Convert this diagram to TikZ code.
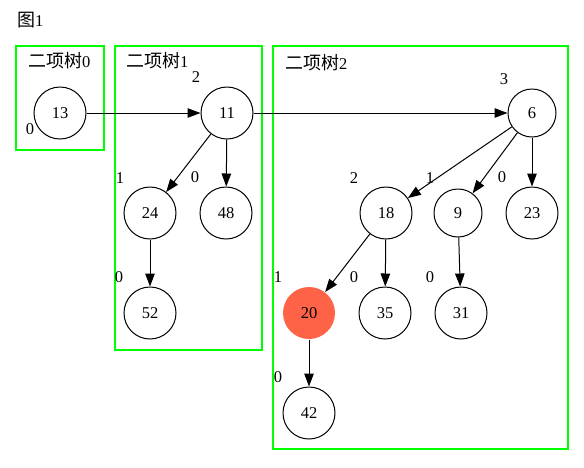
\documentclass[tikz,border=0pt]{standalone}
\usepackage{fontspec}
\setmainfont{Liberation Serif}
\newfontfamily\cjk{Noto Sans CJK SC}
\usetikzlibrary{arrows.meta}
\definecolor{tomato}{HTML}{FF6347}
\definecolor{gr}{HTML}{00FF00}
\begin{document}
\begin{tikzpicture}[x=1pt,y=-1pt,font=\fontsize{16.5}{18}\selectfont,
  nd/.style={circle,draw,line width=1pt,minimum size=52pt,inner sep=0pt},
  sm/.style={nd,minimum size=48pt},
  hot/.style={nd,draw=none,fill=tomato},
  edge/.style={draw,line width=1pt,-{Triangle[length=13pt,width=9.5pt]}},
  clu/.style={draw=gr,line width=1.2pt},
  lbl/.style={inner sep=0pt},
  ttl/.style={inner sep=0pt,anchor=west},
  cj/.style={}]
\useasboundingbox (0,0) rectangle (584,467);
% clusters
\draw[clu] (16,46) rectangle (104,150);
\draw[clu] (115,46) rectangle (262,350);
\draw[clu] (273,46) rectangle (568,449);
\node[ttl] (title) at (17,20) {{\cjk\fontsize{18}{20}\selectfont 图}1};
\node[ttl] (c0) at (28,61) {{\cjk\fontsize{18}{20}\selectfont 二项树}0};
\node[ttl] (c1) at (126,61) {{\cjk\fontsize{18}{20}\selectfont 二项树}1};
\node[ttl] (c2) at (285,63) {{\cjk\fontsize{18}{20}\selectfont 二项树}2};
% nodes
\node[nd] (n13) at (60,113) {13};
\node[nd] (n11) at (227,113) {11};
\node[sm] (n6) at (532,113) {6};
\node[nd] (n24) at (150,213) {24};
\node[nd] (n48) at (226,213) {48};
\node[nd] (n52) at (150,313) {52};
\node[nd] (n18) at (386,213) {18};
\node[sm] (n9) at (458,213) {9};
\node[nd] (n23) at (532,213) {23};
\node[hot] (n20) at (309,313) {20};
\node[nd] (n35) at (385,313) {35};
\node[nd] (n31) at (461,313) {31};
\node[nd] (n42) at (309,413) {42};
% degree labels
\node[lbl] (d13) at (30,129) {0};
\node[lbl] (d11) at (196,77) {2};
\node[lbl] (d6) at (504,79) {3};
\node[lbl] (d24) at (120,178) {1};
\node[lbl] (d48) at (195,177) {0};
\node[lbl] (d52) at (119,277) {0};
\node[lbl] (d18) at (354,178) {2};
\node[lbl] (d9) at (430,178) {1};
\node[lbl] (d23) at (502,177) {0};
\node[lbl] (d20) at (278,277) {1};
\node[lbl] (d35) at (354,277) {0};
\node[lbl] (d31) at (430,277) {0};
\node[lbl] (d42) at (278,377) {0};
% edges
\path[edge] (n13) -- (n11);
\path[edge] (n11) -- (n6);
\path[edge] (n11) -- (n24);
\path[edge] (n11) -- (n48);
\path[edge] (n24) -- (n52);
\path[edge] (n6) -- (n18);
\path[edge] (n6) -- (n9);
\path[edge] (n6) -- (n23);
\path[edge] (n18) -- (n20);
\path[edge] (n18) -- (n35);
\path[edge] (n9) -- (n31);
\path[edge] (n20) -- (n42);
\end{tikzpicture}
\end{document}
